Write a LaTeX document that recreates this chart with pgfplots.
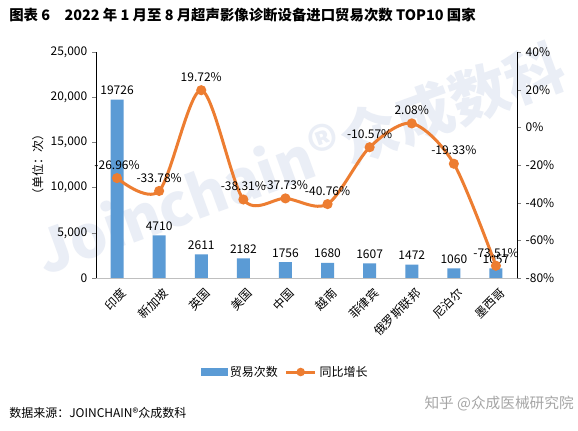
\documentclass[border=0pt]{standalone}
\usepackage{fontspec}
\setmainfont{Noto Sans CJK SC}
\usepackage{pgfplots}
\pgfplotsset{compat=1.18}
\usepackage{pgfplotstable}
\definecolor{barblue}{HTML}{5B9BD5}
\definecolor{lineorange}{HTML}{ED7D31}
\definecolor{wm}{RGB}{234,238,246}

\pgfplotstableread{
x cnt yoy
0 19726 -26.96
1 4710 -33.78
2 2611 19.72
3 2182 -38.31
4 1756 -37.73
5 1680 -40.76
6 1607 -10.57
7 1472 2.08
8 1060 -19.33
9 1057 -73.51
}\data

\begin{document}
\begin{tikzpicture}[x=0.75pt,y=0.75pt]
\useasboundingbox (0,0) rectangle (578,431);
\fill[white] (0,0) rectangle (578,431);
% watermark
\node[rotate=20, text=wm, font=\bfseries\fontsize{44}{44}\selectfont] at (300,272) {Joinchain®众成数科};
% title
\node[anchor=west, font=\bfseries\fontsize{10.8}{13}\selectfont, inner sep=0pt] at (9,416) {图表 6\quad 2022 年 1 月至 8 月超声影像诊断设备进口贸易次数 TOP10 国家};

\begin{axis}[
  at={(72pt,114.75pt)}, anchor=south west,
  width=315.75pt, height=169.5pt, scale only axis,
  xmin=-0.5, xmax=9.5, ymin=0, ymax=25000,
  axis y line*=left, axis x line*=bottom,
  x axis line style={draw=black!25},
  y axis line style={draw=black},
  xtick=data,
  xticklabels={印度,新加坡,英国,美国,中国,越南,菲律宾,俄罗斯联邦,尼泊尔,墨西哥},
  major x tick style={draw=none},
  x tick label style={rotate=45, anchor=north east, font=\fontsize{9}{10}\selectfont, inner sep=1pt, yshift=-3pt},
  ytick={0,5000,...,25000},
  scaled y ticks=false,
  tick align=outside, major tick length=3pt,
  /pgf/number format/assume math mode=true,
  yticklabel style={/pgf/number format/1000 sep={,}, font=\fontsize{9}{10}\selectfont},
  ylabel={（单位：次）},
  ylabel style={at={(axis description cs:-0.138,0.5)}, anchor=center, font=\fontsize{9}{10}\selectfont},
]
\addplot[ybar, bar width=9.75pt, fill=barblue, draw=none,
  nodes near coords, point meta=explicit symbolic,
  nodes near coords style={font=\fontsize{9}{10}\selectfont, text=black}]
  table[x=x, y=cnt, meta=cnt]{\data};
\end{axis}

\begin{axis}[
  at={(72pt,114.75pt)}, anchor=south west,
  width=315.75pt, height=169.5pt, scale only axis,
  xmin=-0.5, xmax=9.5, ymin=-80, ymax=40,
  axis y line*=right, axis x line=none,
  y axis line style={draw=black},
  ytick={-80,-60,...,40},
  tick align=outside, major tick length=3pt,
  /pgf/number format/assume math mode=true,
  yticklabel={\pgfmathprintnumber{\tick}\%},
  yticklabel style={font=\fontsize{9}{10}\selectfont},
  legend columns=2,
  legend style={draw=none, fill=none, at={(0.45,-0.416)}, anchor=center,
    font=\fontsize{9}{10}\selectfont,
    /tikz/every even column/.append style={column sep=3pt}},
]
\addlegendimage{legend image code/.code={\fill[barblue] (0pt,-2.5pt) rectangle (19.5pt,2.5pt);}}
\addlegendentry{贸易次数}
\addplot[lineorange, line width=2.25pt, smooth, mark=*, mark size=2.6pt,
  mark options={fill=lineorange, draw=lineorange},
  nodes near coords={\pgfplotspointmeta\%}, point meta=explicit symbolic,
  nodes near coords style={font=\fontsize{9}{10}\selectfont, text=black, yshift=2pt},
  legend image code/.code={\draw[lineorange, line width=2.25pt] (0pt,0pt) -- (22pt,0pt); \fill[lineorange] (11pt,0pt) circle (2pt);}]
  table[x=x, y=yoy, meta=yoy]{\data};
\addlegendentry{同比增长}
\end{axis}

\node[anchor=west, font=\fontsize{9}{10}\selectfont, inner sep=0pt] at (9,18) {数据来源：JOINCHAIN®众成数科};
\node[anchor=east, text=black!35, font=\fontsize{11}{12}\selectfont, inner sep=0pt] at (574,27) {知乎 @众成医械研究院};
\end{tikzpicture}
\end{document}
